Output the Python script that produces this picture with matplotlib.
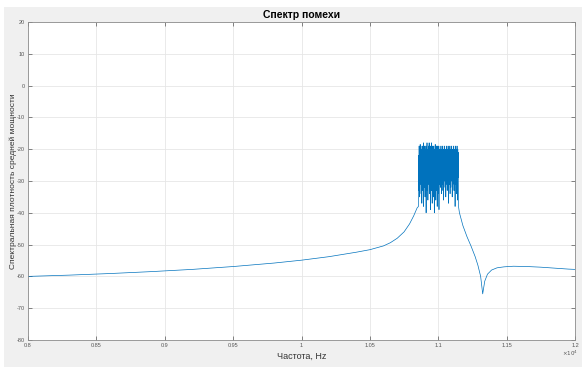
import matplotlib
matplotlib.use("Agg")
import matplotlib.pyplot as plt
from matplotlib.patches import Rectangle
import numpy as np

plt.rcParams["font.family"] = ["Liberation Sans", "DejaVu Sans"]

# smooth part of the spectrum (frequency x1e4, dB)
freq_left = [0.80, 0.83, 0.86, 0.89, 0.92, 0.95, 0.98, 1.00, 1.02, 1.04, 1.05,
             1.06, 1.065, 1.07, 1.075, 1.079, 1.082, 1.0845]
psd_left = [-60.0, -59.6, -59.1, -58.5, -57.8, -56.9, -55.8, -54.9, -53.8, -52.4, -51.6,
            -50.4, -49.4, -48.0, -46.0, -43.5, -41.0, -38.5]

band_start, band_end = 1.0855, 1.1148
band_vals = [-38, -30, -22, -33, -19, -28, -21, -35, -20, -26, -18.5, -31, -22, -27, -19,
             -34, -21, -29, -20, -37, -23, -26, -19, -30, -21, -33, -20, -28, -18, -38,
             -22, -27, -21, -32, -19, -29, -23, -35, -20, -26, -22, -31, -19, -40, -21,
             -28, -20, -30, -18, -33, -22, -27, -21, -36, -20, -29, -19, -31, -23, -26,
             -18, -34, -21, -28, -20, -32, -22, -39, -19, -27, -21, -30, -20, -33, -18,
             -28, -22, -37, -21, -26, -19, -31, -20, -35, -23, -28, -19, -30, -21, -40,
             -22, -27, -20, -32, -18.5, -29, -21, -36, -20, -26, -19, -33, -22, -28, -21,
             -38, -20, -30, -19, -27, -22, -34, -20, -29, -19, -39, -21, -31, -20, -28,
             -23, -29, -20, -32, -24, -27, -19, -30, -22, -34, -21, -26, -20, -31, -23,
             -28, -19, -33, -22, -27, -21, -36, -20, -29, -24, -30, -19, -28, -22, -32,
             -20, -27, -23, -35, -21, -29, -19, -31, -22, -26, -20, -33, -24, -28, -21,
             -30, -19, -27, -22, -37, -20, -29, -23, -31, -21, -28, -19, -34, -22, -26,
             -20, -32, -23, -29, -21, -30, -19, -27, -22, -35, -20, -28, -24, -31, -21,
             -29, -19, -26, -22, -33, -20, -30, -23, -27, -21, -38, -19, -29, -22, -31,
             -20, -28, -23, -34, -21, -27, -19, -30, -22, -36, -20, -29, -21, -32, -38]

freq_right = [1.1155, 1.118, 1.121, 1.124, 1.127, 1.129, 1.131, 1.1325, 1.134, 1.136,
              1.139, 1.143, 1.148, 1.155, 1.165, 1.175, 1.185, 1.195, 1.20]
psd_right = [-40.0, -44.0, -47.5, -50.5, -53.8, -56.5, -60.0, -65.5, -61.5, -59.3,
             -58.0, -57.3, -57.0, -56.8, -56.9, -57.1, -57.4, -57.7, -57.8]

xticks = [0.8, 0.85, 0.9, 0.95, 1.0, 1.05, 1.1, 1.15, 1.2]
xtick_labels = ["0.8", "0.85", "0.9", "0.95", "1", "1.05", "1.1", "1.15", "1.2"]
yticks = list(range(-80, 21, 10))

# band samples are spread evenly over its frequency span
band_freq = np.linspace(band_start, band_end, len(band_vals))
freq = np.concatenate([freq_left, band_freq, freq_right])
psd = np.concatenate([psd_left, band_vals, psd_right])

fig = plt.figure(figsize=(5.82, 3.67), dpi=100, facecolor="white")
fig.patches.append(Rectangle((4 / 582, 0), 1, (367 - 7) / 367, transform=fig.transFigure,
                             facecolor="#f0f0f0", edgecolor="none", zorder=-10))
ax = fig.add_axes([28 / 582, 1 - 340 / 367, 547 / 582, 318 / 367])

ax.plot(freq, psd, color="#0072BD", lw=0.5)

ax.set_xlim(0.8, 1.2)
ax.set_ylim(-80, 20)
ax.set_xticks(xticks)
ax.set_xticklabels(xtick_labels)
ax.set_yticks(yticks)
ax.set_yticklabels([str(v) for v in yticks])
ax.tick_params(direction="in", length=3, width=0.5, labelsize=4, colors="#555555",
               top=True, right=True, pad=2)
ax.grid(True, color="#e6e6e6", lw=0.6)
for s in ax.spines.values():
    s.set_color("#8c8c8c")
    s.set_linewidth(0.6)

ax.set_title("Спектр помехи", fontsize=7.5, fontweight="bold", pad=3)
ax.set_xlabel("Частота, Hz", fontsize=6.5, color="#333333", labelpad=3)
ax.set_ylabel("Спектральная плотность средней мощности", fontsize=6, color="#333333",
              labelpad=0)
fig.text(570 / 582, 1 - 353 / 367, r"$\times10^4$", fontsize=4, color="#555555",
         ha="center", va="center")

fig.savefig("out.png", dpi=100, facecolor=fig.get_facecolor())
